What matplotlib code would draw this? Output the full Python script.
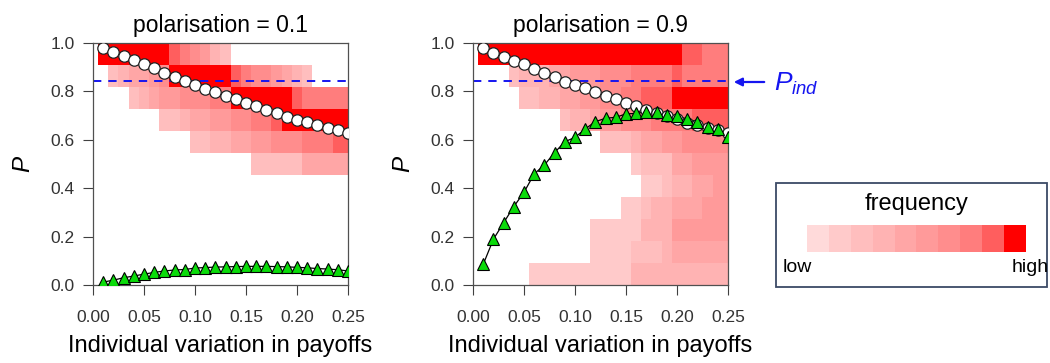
import numpy as np
import matplotlib
matplotlib.use('Agg')
import matplotlib.pyplot as plt
from matplotlib.colors import ListedColormap, BoundaryNorm
from matplotlib.patches import Rectangle, FancyArrowPatch

plt.rcParams['font.family'] = ['Liberation Sans', 'DejaVu Sans']
plt.rcParams['mathtext.fontset'] = 'custom'
plt.rcParams['mathtext.it'] = 'Liberation Sans:italic'
plt.rcParams['mathtext.rm'] = 'Liberation Sans'
plt.rcParams['lines.scale_dashes'] = False

# ---------------- data ----------------
variation = [0.01, 0.02, 0.03, 0.04, 0.05, 0.06, 0.07, 0.08, 0.09, 0.10,
             0.11, 0.12, 0.13, 0.14, 0.15, 0.16, 0.17, 0.18, 0.19, 0.20,
             0.21, 0.22, 0.23, 0.24, 0.25]
n_p_bins = 11
titles = ['polarisation = 0.1', 'polarisation = 0.9']
p_ind = 0.844

circles_01 = [0.979, 0.964, 0.948, 0.930, 0.914, 0.895, 0.877, 0.858, 0.844, 0.826,
              0.811, 0.796, 0.781, 0.767, 0.753, 0.738, 0.722, 0.711, 0.694, 0.682,
              0.673, 0.661, 0.648, 0.639, 0.627]
triangles_01 = [0.012, 0.020, 0.030, 0.037, 0.045, 0.052, 0.058, 0.062, 0.064, 0.070,
                0.072, 0.074, 0.075, 0.076, 0.077, 0.077, 0.077, 0.076, 0.075, 0.073,
                0.071, 0.068, 0.066, 0.063, 0.058]
circles_09 = [0.978, 0.960, 0.943, 0.926, 0.912, 0.891, 0.875, 0.858, 0.840, 0.826,
              0.813, 0.796, 0.782, 0.769, 0.753, 0.740, 0.725, 0.709, 0.698, 0.685,
              0.671, 0.661, 0.650, 0.640, 0.629]
triangles_09 = [0.085, 0.189, 0.257, 0.324, 0.383, 0.459, 0.496, 0.547, 0.592, 0.610,
                0.645, 0.675, 0.689, 0.693, 0.707, 0.709, 0.716, 0.716, 0.702, 0.700,
                0.685, 0.675, 0.654, 0.643, 0.613]

# frequency level (0 = none, 1..10) per P bin (rows, top bin first) and variation (cols)
freq_01 = [
    [10, 10, 10, 10, 10, 10, 10, 9, 8, 7, 6, 4, 3, 0, 0, 0, 0, 0, 0, 0, 0, 0, 0, 0, 0],
    [0, 3, 4, 5, 5, 6, 7, 10, 10, 10, 10, 10, 10, 9, 8, 7, 7, 6, 5, 4, 3, 0, 0, 0, 0],
    [0, 0, 0, 3, 4, 5, 6, 6, 7, 7, 7, 8, 8, 10, 10, 10, 10, 10, 10, 9, 8, 8, 8, 8, 8],
    [0, 0, 0, 0, 0, 0, 3, 3, 4, 5, 5, 6, 6, 7, 7, 8, 8, 9, 10, 10, 10, 10, 10, 10, 10],
    [0, 0, 0, 0, 0, 0, 0, 0, 0, 3, 3, 4, 4, 5, 5, 6, 6, 7, 7, 7, 8, 8, 8, 9, 9],
    [0, 0, 0, 0, 0, 0, 0, 0, 0, 0, 0, 0, 0, 0, 0, 3, 3, 3, 3, 3, 5, 5, 5, 5, 5],
    [0] * 25,
    [0] * 25,
    [0] * 25,
    [0] * 25,
    [0] * 25,
]
freq_09 = [
    [10, 10, 10, 10, 10, 10, 10, 10, 10, 10, 10, 10, 10, 10, 10, 10, 10, 10, 10, 10, 9, 9, 8, 8, 8],
    [0, 0, 0, 3, 4, 4, 4, 5, 5, 6, 6, 6, 7, 7, 7, 8, 8, 8, 8, 9, 8, 8, 8, 8, 8],
    [0, 0, 0, 0, 3, 3, 4, 4, 5, 5, 6, 6, 7, 7, 8, 8, 9, 9, 9, 10, 10, 10, 10, 10, 10],
    [0, 0, 0, 0, 0, 0, 0, 0, 3, 4, 4, 5, 6, 6, 7, 7, 7, 8, 8, 8, 8, 9, 9, 9, 9],
    [0, 0, 0, 0, 0, 0, 0, 0, 0, 0, 0, 0, 3, 3, 3, 4, 5, 5, 6, 6, 7, 7, 7, 7, 7],
    [0, 0, 0, 0, 0, 0, 0, 0, 0, 0, 0, 0, 0, 0, 0, 2, 3, 3, 3, 5, 5, 6, 6, 6, 6],
    [0, 0, 0, 0, 0, 0, 0, 0, 0, 0, 0, 0, 0, 0, 0, 0, 2, 2, 3, 4, 4, 5, 5, 6, 6],
    [0, 0, 0, 0, 0, 0, 0, 0, 0, 0, 0, 0, 0, 0, 2, 2, 3, 4, 4, 5, 5, 5, 6, 6, 6],
    [0, 0, 0, 0, 0, 0, 0, 0, 0, 0, 0, 2, 2, 2, 2, 2, 4, 4, 4, 6, 6, 6, 6, 6, 6],
    [0, 0, 0, 0, 0, 0, 0, 0, 0, 0, 0, 2, 2, 2, 2, 3, 3, 3, 4, 5, 5, 5, 5, 5, 5],
    [0, 0, 0, 0, 0, 2, 2, 2, 2, 2, 2, 2, 2, 2, 2, 4, 4, 4, 4, 4, 4, 4, 4, 4, 4],
]
level_colors = ['#FFDADA', '#FFCACA', '#FFBEBE', '#FFB3B3', '#FFA6A6',
                '#FF9A9A', '#FF8D8D', '#FF7D7D', '#FF5E5E', '#FF0000']
x_ticks = [0.00, 0.05, 0.10, 0.15, 0.20, 0.25]
x_ticklabels = ['0.00', '0.05', '0.10', '0.15', '0.20', '0.25']
y_ticks = [0.0, 0.2, 0.4, 0.6, 0.8, 1.0]
y_ticklabels = ['0.0', '0.2', '0.4', '0.6', '0.8', '1.0']
xlabel = 'Individual variation in payoffs'

# ---------------- figure ----------------
W, H = 1050, 363
fig = plt.figure(figsize=(W / 100, H / 100), dpi=100)

cmap = ListedColormap(level_colors)
norm = BoundaryNorm(np.arange(0.5, 11.5, 1), cmap.N)
xs = np.array(variation)
step = xs[1] - xs[0]
x_lo, x_hi = xs[0] - step / 2, xs[-1] + step / 2

panels = [(93, titles[0], freq_01, circles_01, triangles_01),
          (473, titles[1], freq_09, circles_09, triangles_09)]

tick_col = '#333333'
for left_px, title, freq, circ, tri in panels:
    ax = fig.add_axes([left_px / W, 78 / H, 255 / W, 242 / H])
    Z = np.ma.masked_equal(np.array(freq)[::-1], 0)
    ax.imshow(Z, cmap=cmap, norm=norm, origin='lower', aspect='auto',
              interpolation='nearest', extent=[x_lo, x_hi, 0, 1], zorder=1)
    ax.axhline(p_ind, color='#1515F0', lw=1.4, dashes=(6, 5), zorder=2)
    ax.plot(xs, circ, '-', color='black', lw=0.9, zorder=3)
    ax.plot(xs, circ, 'o', ms=8.2, mfc='white', mec='#222222', mew=0.9, zorder=4)
    ax.plot(xs, tri, '-', color='black', lw=0.9, zorder=3)
    ax.plot(xs, tri, '^', ms=8.6, mfc='#0ADB0A', mec='black', mew=0.8, zorder=5)
    ax.set_xlim(0, 0.25)
    ax.set_ylim(0, 1)
    ax.set_xticks(x_ticks)
    ax.set_xticklabels(x_ticklabels)
    ax.set_yticks(y_ticks)
    ax.set_yticklabels(y_ticklabels)
    ax.tick_params(axis='both', direction='out', length=7, width=0.8,
                   colors='#404040', labelcolor=tick_col, labelsize=12.5)
    ax.tick_params(axis='x', pad=11)
    ax.tick_params(axis='y', pad=6)
    for s in ax.spines.values():
        s.set_color('#505050')
        s.set_linewidth(0.9)
    ax.set_title(title, fontsize=16.5, pad=8)
    ax.set_xlabel(xlabel, fontsize=17, labelpad=7)
    ax.set_ylabel('P', fontsize=17.5, style='italic', labelpad=12)

# P_ind annotation
blue = '#1515F0'
y_ann = 1 - 82 / H
fig.add_artist(FancyArrowPatch((767 / W, y_ann), (731 / W, y_ann), transform=fig.transFigure,
                               arrowstyle='-|>', mutation_scale=12, color=blue, lw=1.6))
fig.text(774 / W, 1 - 84 / H, r'$P_{ind}$', color=blue, fontsize=19, ha='left', va='center')

# legend box
fig.add_artist(Rectangle((776 / W, 76 / H), 271 / W, 104 / H, transform=fig.transFigure,
                         fill=False, edgecolor='#3C4A66', lw=1.3))
fig.text(917 / W, 1 - 204 / H, 'frequency', fontsize=17, ha='center', va='center')
cax = fig.add_axes([807 / W, 111 / H, 219 / W, 27 / H])
cax.imshow(np.arange(1, len(level_colors) + 1)[None, :], cmap=cmap, norm=norm,
           aspect='auto', interpolation='nearest')
cax.axis('off')
fig.text(783 / W, 1 - 268 / H, 'low', fontsize=14, ha='left', va='center')
fig.text(1049 / W, 1 - 268 / H, 'high', fontsize=14, ha='right', va='center')

fig.savefig('out.png', dpi=100)
